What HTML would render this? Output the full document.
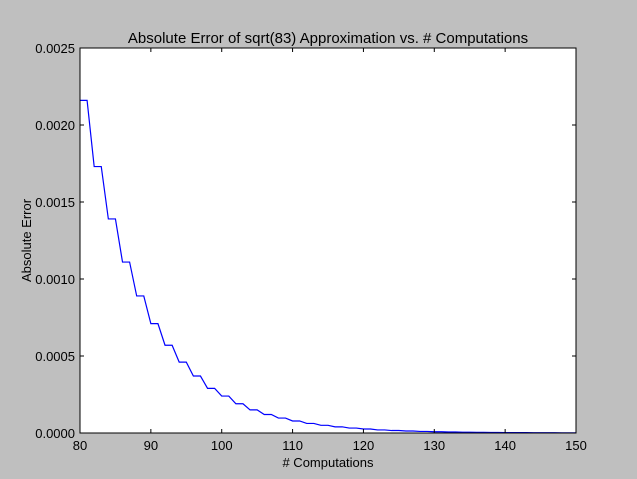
<!DOCTYPE html>
<html><head><meta charset="utf-8"><style>
body{margin:0;background:#bfbfbf;}
svg{display:block;font-family:"Liberation Sans",sans-serif;}
</style></head><body>
<svg id="c" width="637" height="479"></svg>
<script>
const stepStarts=[80,82,84,86,88,90,92,94,96,98,100,102,104,106,108,110,112,114,116,118,120,122,124,126,128,130,132,134,136,138,140,142,144,146,148,150];
const errors=[0.00216,0.00173,0.00139,0.00111,0.00089,0.00071,0.00057,0.00046,0.00037,0.00029,0.00024,0.00019,0.00015,0.00012,0.000097,0.000078,0.000062,0.00005,0.00004,0.000032,0.000026,0.00002,0.000016,0.000013,0.00001,0.000008,0.0000067,0.0000054,0.0000043,0.0000034,0.0000027,0.0000022,0.0000018,0.0000014,0.0000011,0.0000009];
const xTicks=[80,90,100,110,120,130,140,150];
const yTicks=[0,0.0005,0.001,0.0015,0.002,0.0025];
const yTickLabels=["0.0000","0.0005","0.0010","0.0015","0.0020","0.0025"];
const L=80,R=576,T=48,B=433;
const sx=v=>L+(v-80)/(150-80)*(R-L);
const sy=v=>B-v/0.0025*(B-T);
const svg=document.getElementById('c');
const NS='http://www.w3.org/2000/svg';
function mk(tag,attrs,name){const e=document.createElementNS(NS,tag);for(const k in attrs)e.setAttribute(k,attrs[k]);


svg.appendChild(e);return e;}
mk('rect',{x:L,y:T,width:R-L,height:B-T,fill:'#fff'},'plot-area');
let pts=[];
stepStarts.forEach((x,i)=>{pts.push(sx(x)+','+sy(errors[i]));if(x+1<=150)pts.push(sx(x+1)+','+sy(errors[i]));});
mk('polyline',{points:pts.join(' '),fill:'none',stroke:'#0000ff','stroke-width':1.2},'error-line');
mk('rect',{x:L,y:T,width:R-L,height:B-T,fill:'none',stroke:'#000','stroke-width':1},'plot-frame');
xTicks.forEach(v=>{const x=sx(v);
mk('line',{x1:x,y1:B,x2:x,y2:B-4,stroke:'#000'},'x-tick');
mk('line',{x1:x,y1:T,x2:x,y2:T+4,stroke:'#000'},'x-tick-top');
const t=mk('text',{x:x,y:B+17,'text-anchor':'middle','font-size':13},'x-tick-label');t.textContent=v;});
yTicks.forEach((v,i)=>{const y=sy(v);
mk('line',{x1:L,y1:y,x2:L+4,y2:y,stroke:'#000'},'y-tick');
mk('line',{x1:R,y1:y,x2:R-4,y2:y,stroke:'#000'},'y-tick-right');
const t=mk('text',{x:L-5,y:y+5,'text-anchor':'end','font-size':13},'y-tick-label');t.textContent=yTickLabels[i];});
let t=mk('text',{x:(L+R)/2,y:43,'text-anchor':'middle','font-size':15},'chart-title');t.textContent='Absolute Error of sqrt(83) Approximation vs. # Computations';
t=mk('text',{x:(L+R)/2,y:467,'text-anchor':'middle','font-size':13},'x-axis-title');t.textContent='# Computations';
t=mk('text',{x:0,y:0,'text-anchor':'middle','font-size':13,transform:'translate(31,'+(T+B)/2+') rotate(-90)'},'y-axis-title');t.textContent='Absolute Error';
</script>
</body></html>
